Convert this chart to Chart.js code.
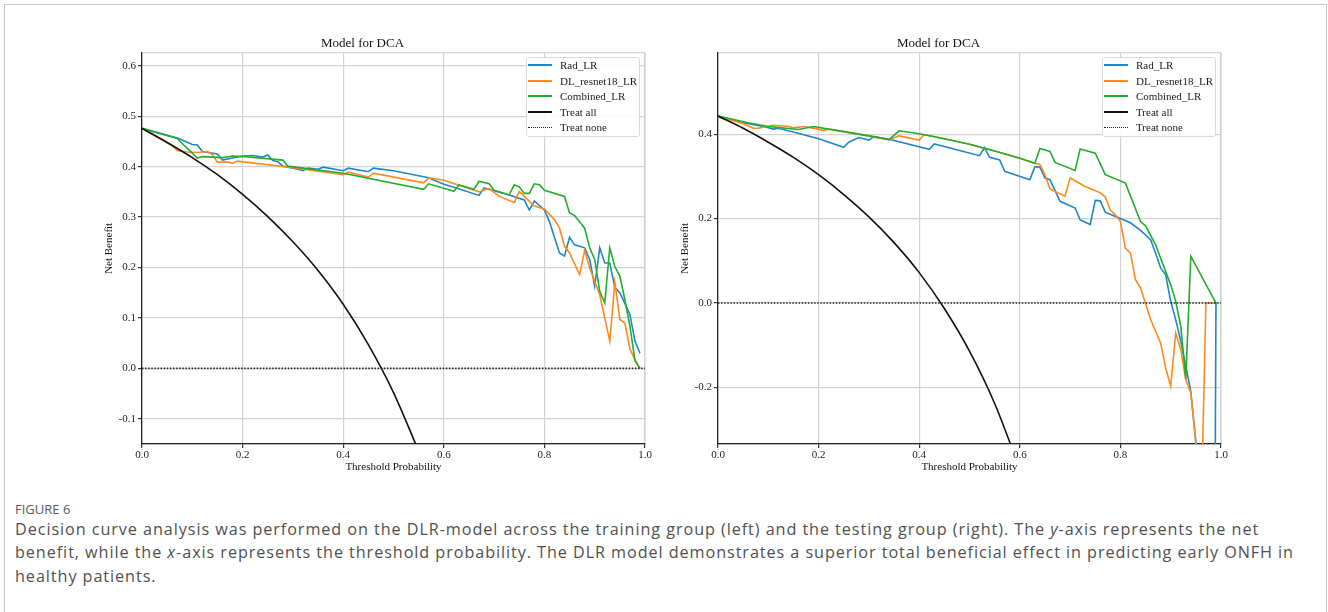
<!DOCTYPE html>
<html><head><meta charset="utf-8">
<script src="https://cdn.jsdelivr.net/npm/chart.js@4.4.1/dist/chart.umd.min.js"></script>
<style>
html,body{margin:0;padding:0;background:#fff;}
body{width:1328px;height:612px;position:relative;overflow:hidden;}
#frame{position:absolute;left:4px;top:4px;width:1323px;height:700px;border:1px solid #c8c8c8;box-sizing:border-box;}
canvas{position:absolute;}
.legend{position:absolute;border:1px solid #dadada;border-radius:3px;background:rgba(255,255,255,0.85);font-family:"Liberation Serif",serif;font-size:11px;color:#1a1a1a;padding:0 2px 1px 1px;}
.legend .row{height:15.5px;display:flex;align-items:center;white-space:nowrap;}
.legend .sw{width:24px;margin-right:8px;height:0;}
.cap{position:absolute;left:15px;white-space:nowrap;color:#505050;font-family:"Open Sans",sans-serif;}
#figlabel{top:501px;font-size:13px;line-height:16px;color:#5a5a5a;}
#captext{top:518px;line-height:23.4px;font-size:16.2px;}
</style></head><body>
<div id="frame"></div>
<canvas id="train" width="575" height="450" style="left:80px;top:30px;"></canvas>
<canvas id="test" width="575" height="450" style="left:656px;top:30px;"></canvas>
<div id="figlabel" class="cap">FIGURE 6</div>
<div id="captext" class="cap">
<div>Decision curve analysis was performed on the DLR-model across the training group (left) and the testing group (right). The <i>y</i>-axis represents the net</div>
<div><span id="capline2">benefit, while the <i>x</i>-axis represents the threshold probability. The DLR model demonstrates a superior total beneficial effect in predicting early ONFH in</span></div>
<div>healthy patients.</div>
</div>
<script>
// ---------- data ----------
const chartTitle = 'Model for DCA';
const seriesNames = ['Rad_LR', 'DL_resnet18_LR', 'Combined_LR', 'Treat all', 'Treat none'];
const xTickValues = [0, 0.2, 0.4, 0.6, 0.8, 1.0];
const trainYTicks = [-0.1, 0, 0.1, 0.2, 0.3, 0.4, 0.5, 0.6];
const testYTicks = [-0.2, 0, 0.2, 0.4];
const trainYRange = [-0.15, 0.626];
const testYRange = [-0.334, 0.593];

// training group (left)
const trainRadX = [0,0.07,0.08,0.10,0.11,0.12,0.15,0.16,0.18,0.20,0.22,0.24,0.25,0.26,0.27,0.28,0.31,0.32,0.33,0.35,0.36,0.40,0.41,0.45,0.46,0.50,0.57,0.60,0.62,0.67,0.68,0.69,0.73,0.76,0.77,0.78,0.80,0.81,0.83,0.84,0.85,0.86,0.88,0.89,0.90,0.91,0.92,0.93,0.94,0.95,0.97,0.98,0.99];
const trainRadY = [0.476,0.457,0.453,0.444,0.443,0.430,0.425,0.413,0.417,0.421,0.422,0.419,0.423,0.412,0.410,0.401,0.395,0.392,0.397,0.395,0.399,0.392,0.397,0.390,0.397,0.392,0.378,0.365,0.359,0.343,0.358,0.355,0.344,0.334,0.314,0.332,0.314,0.291,0.229,0.223,0.260,0.245,0.239,0.216,0.163,0.239,0.209,0.209,0.160,0.150,0.107,0.054,0.030];
const trainDLX = [0,0.06,0.07,0.09,0.11,0.13,0.14,0.15,0.17,0.18,0.19,0.30,0.40,0.41,0.45,0.46,0.56,0.57,0.60,0.67,0.69,0.71,0.74,0.75,0.76,0.78,0.80,0.82,0.83,0.84,0.85,0.87,0.88,0.89,0.91,0.93,0.94,0.95,0.96,0.97,0.98,0.99];
const trainDLY = [0.476,0.442,0.432,0.429,0.428,0.430,0.424,0.409,0.409,0.407,0.411,0.398,0.384,0.389,0.379,0.387,0.368,0.378,0.373,0.350,0.357,0.341,0.329,0.351,0.341,0.322,0.316,0.295,0.278,0.242,0.229,0.186,0.234,0.199,0.146,0.054,0.171,0.097,0.090,0.038,0.018,0.000];
const trainCombX = [0,0.07,0.08,0.10,0.11,0.12,0.16,0.18,0.20,0.27,0.28,0.29,0.40,0.56,0.57,0.62,0.63,0.66,0.67,0.69,0.70,0.73,0.74,0.75,0.76,0.77,0.78,0.79,0.80,0.84,0.85,0.86,0.88,0.89,0.90,0.91,0.92,0.93,0.94,0.95,0.96,0.97,0.98,0.99];
const trainCombY = [0.476,0.456,0.446,0.427,0.417,0.420,0.418,0.421,0.420,0.414,0.413,0.401,0.387,0.355,0.366,0.351,0.364,0.355,0.371,0.366,0.353,0.344,0.364,0.360,0.347,0.347,0.366,0.364,0.353,0.341,0.308,0.303,0.278,0.239,0.216,0.153,0.130,0.239,0.202,0.183,0.136,0.084,0.015,0.000];
const trainAllX = [0,0.05,0.10,0.15,0.20,0.25,0.30,0.35,0.40,0.45,0.50,0.55];
const trainAllY = [0.476,0.448,0.418,0.384,0.345,0.301,0.251,0.194,0.127,0.047,-0.048,-0.164];
const trainNoneX = [0, 1];
const trainNoneY = [0, 0];

// testing group (right)
const testRadX = [0,0.05,0.09,0.10,0.11,0.12,0.15,0.20,0.25,0.26,0.28,0.30,0.31,0.34,0.42,0.43,0.52,0.53,0.54,0.56,0.57,0.62,0.63,0.64,0.65,0.66,0.68,0.71,0.72,0.74,0.75,0.76,0.77,0.79,0.80,0.82,0.84,0.86,0.87,0.88,0.89,0.90,0.91,0.92,0.93,0.94,0.95,0.96,0.97,0.98,0.99];
const testRadY = [0.443,0.427,0.418,0.415,0.412,0.414,0.405,0.389,0.369,0.381,0.392,0.386,0.394,0.388,0.364,0.377,0.349,0.368,0.345,0.339,0.312,0.292,0.323,0.322,0.296,0.292,0.241,0.225,0.197,0.186,0.243,0.242,0.215,0.205,0.200,0.190,0.172,0.150,0.118,0.083,0.067,0.004,-0.040,-0.090,-0.150,-0.210,-0.330,-0.500,-0.800,-2.500,0.000];
const testDLX = [0,0.05,0.07,0.08,0.11,0.14,0.15,0.17,0.20,0.21,0.22,0.25,0.30,0.34,0.36,0.40,0.41,0.45,0.50,0.55,0.60,0.63,0.64,0.65,0.66,0.69,0.70,0.73,0.76,0.77,0.78,0.79,0.80,0.81,0.82,0.83,0.84,0.86,0.88,0.89,0.90,0.91,0.92,0.93,0.94,0.95,0.96,0.97,0.99];
const testDLY = [0.443,0.425,0.414,0.414,0.421,0.418,0.415,0.418,0.412,0.409,0.412,0.406,0.396,0.387,0.396,0.386,0.399,0.389,0.376,0.360,0.343,0.331,0.328,0.304,0.270,0.253,0.296,0.276,0.261,0.251,0.220,0.209,0.193,0.130,0.118,0.055,0.036,-0.039,-0.095,-0.154,-0.197,-0.071,-0.110,-0.182,-0.213,-0.330,-0.520,0.000,0.000];
const testCombX = [0,0.06,0.10,0.16,0.19,0.25,0.30,0.34,0.36,0.40,0.45,0.50,0.55,0.60,0.63,0.64,0.66,0.67,0.71,0.72,0.75,0.77,0.81,0.84,0.85,0.87,0.90,0.91,0.92,0.93,0.94,0.99];
const testCombY = [0.443,0.427,0.418,0.411,0.418,0.406,0.396,0.387,0.408,0.401,0.389,0.376,0.360,0.343,0.331,0.366,0.359,0.333,0.314,0.365,0.355,0.304,0.284,0.193,0.183,0.138,0.043,0.004,-0.055,-0.180,0.111,0.000];
const testAllX = [0,0.05,0.10,0.15,0.20,0.25,0.30,0.35,0.40,0.45,0.50,0.55,0.60];
const testAllY = [0.443,0.414,0.381,0.345,0.304,0.257,0.204,0.143,0.072,-0.013,-0.114,-0.238,-0.393];
const testNoneX = [0, 1];
const testNoneY = [0, 0];

// ---------- styles ----------
const seriesColors = ['#1f87c8', '#ff8a1c', '#22ad2c', '#111111', '#222222'];

Chart.defaults.font.family = '"Liberation Serif", "Times New Roman", serif';
Chart.defaults.color = '#1a1a1a';

const pts = (xs, ys) => xs.map((x, i) => ({x: x, y: ys[i]}));

const frameLines = {
  id: 'frameLines',
  beforeDraw(chart) {
    const {ctx, chartArea: a} = chart;
    ctx.save();
    ctx.strokeStyle = '#d6d6d6';
    ctx.lineWidth = 1.2;
    ctx.strokeRect(a.left, a.top, a.right - a.left, a.bottom - a.top);
    ctx.restore();
  }
};

function makeChart(id, series, yRange, yTicks) {
  const datasets = series.map((s, i) => ({
    label: seriesNames[i],
    data: pts(s[0], s[1]),
    borderColor: seriesColors[i],
    backgroundColor: seriesColors[i],
    borderWidth: 1.6,
    borderDash: i === 4 ? [1.5, 1.6] : [],
    pointRadius: 0,
    fill: false,
    tension: 0,
    cubicInterpolationMode: i === 3 ? 'monotone' : 'default',
    clip: 0,
    order: 5 - i
  }));
  const tickFmt = v => Number(v).toFixed(1);
  const chart = new Chart(document.getElementById(id), {
    type: 'line',
    data: {datasets},
    plugins: [frameLines],
    options: {
      responsive: false,
      animation: false,
      devicePixelRatio: 1,
      layout: {padding: {left: 0, right: 10, top: 0, bottom: 0}},
      plugins: {
        legend: {display: false},
        tooltip: {enabled: false},
        title: {display: true, text: chartTitle, color: '#111', font: {size: 13, weight: 'normal'}, padding: {top: 5.5, bottom: 1.6}}
      },
      scales: {
        x: {
          type: 'linear', min: 0, max: 1,
          afterBuildTicks: s => { s.ticks = xTickValues.map(v => ({value: v})); },
          afterFit: s => { s.height = 36; },
          ticks: {font: {size: 11}, color: '#222', padding: 1, maxRotation: 0, autoSkip: false, callback: tickFmt},
          grid: {color: '#d3d3d3', lineWidth: 1.2, tickColor: '#333', tickLength: 4},
          border: {color: '#222', width: 1.2},
          title: {display: true, text: 'Threshold Probability', color: '#111', font: {size: 11}, padding: {top: 0, bottom: 6.4}}
        },
        y: {
          type: 'linear', min: yRange[0], max: yRange[1],
          afterBuildTicks: s => { s.ticks = yTicks.map(v => ({value: v})); },
          afterFit: s => { s.width = 62; },
          ticks: {font: {size: 11}, color: '#222', padding: 2, autoSkip: false, callback: tickFmt},
          grid: {color: '#d3d3d3', lineWidth: 1.2, tickColor: '#333', tickLength: 4},
          border: {color: '#222', width: 1.2},
          title: {display: true, text: 'Net Benefit', color: '#111', font: {size: 11}, padding: {top: 22.4, bottom: 0}}
        }
      }
    }
  });
  return chart;
}

function buildLegend(chart) {
  const a = chart.chartArea;
  const c = chart.canvas;
  const box = document.createElement('div');
  box.className = 'legend';
  chart.data.datasets.forEach(ds => {
    const row = document.createElement('div');
    row.className = 'row';
    const sw = document.createElement('span');
    sw.className = 'sw';
    const dotted = ds.borderDash && ds.borderDash.length;
    sw.style.borderTop = dotted ? ('1.5px dotted ' + ds.borderColor) : ('2px solid ' + ds.borderColor);
    const tx = document.createElement('span');
    tx.textContent = ds.label;
    row.appendChild(sw);
    row.appendChild(tx);
    box.appendChild(row);
  });
  document.body.appendChild(box);
  box.style.top = (c.offsetTop + a.top + 4) + 'px';
  box.style.left = (c.offsetLeft + a.right - 5 - box.offsetWidth) + 'px';
}

const trainChart = makeChart('train', [
  [trainRadX, trainRadY], [trainDLX, trainDLY], [trainCombX, trainCombY], [trainAllX, trainAllY], [trainNoneX, trainNoneY]
], trainYRange, trainYTicks);
const testChart = makeChart('test', [
  [testRadX, testRadY], [testDLX, testDLY], [testCombX, testCombY], [testAllX, testAllY], [testNoneX, testNoneY]
], testYRange, testYTicks);
buildLegend(trainChart);
buildLegend(testChart);

// spread the caption so that its second line spans the same width as in the original
(function fitCaption() {
  const line = document.getElementById('capline2');
  const w = line.getBoundingClientRect().width;
  const target = 1294 - 15;
  const n = line.textContent.length;
  const ls = Math.max(0, Math.min(2, (target - w) / n));
  document.getElementById('captext').style.letterSpacing = ls.toFixed(3) + 'px';
})();
</script>
</body></html>
